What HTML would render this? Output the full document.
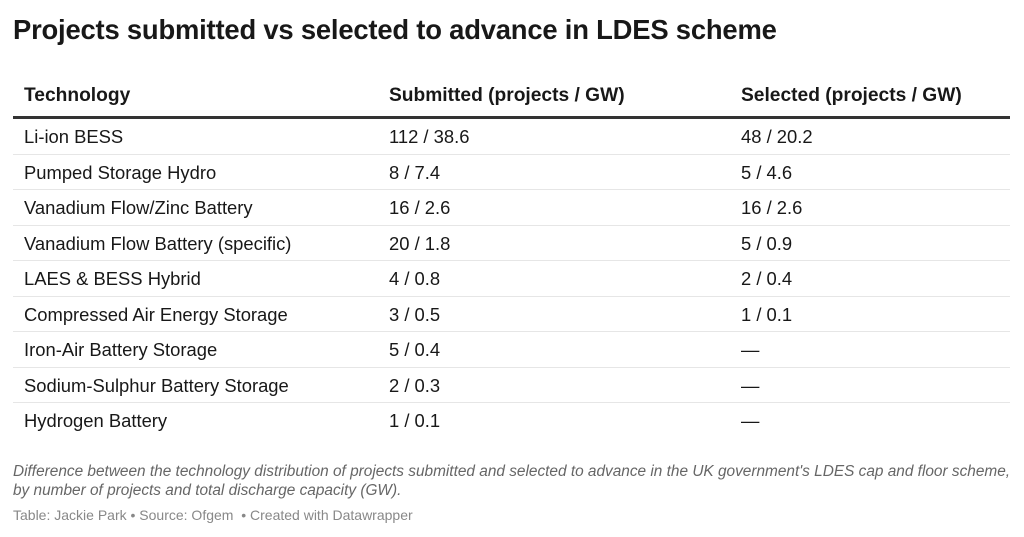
<!DOCTYPE html>
<html><head><style>
body{margin:0;width:1024px;height:537px;background:#fff;font-family:"Liberation Sans",sans-serif;color:#181818;position:relative;overflow:hidden}
.t{position:absolute;left:13px;top:14px;font-size:27.4px;font-weight:bold;letter-spacing:-0.2px}
.hd{position:absolute;top:85px;font-size:19.2px;font-weight:bold}
.line{position:absolute;left:13px;width:997px;top:116px;height:3px;background:#333}
.row{position:absolute;left:13px;width:997px;height:35.5px;border-bottom:1px solid #e6e6e6;font-size:18.4px;box-sizing:border-box}
.row span{position:absolute;top:7px}
.c1{left:11px}.c2{left:376px}.c3{left:728px}
.note{position:absolute;left:13px;font-size:15.4px;font-style:italic;color:#666}
.src{position:absolute;left:13px;top:507px;font-size:14px;color:#888}
</style></head><body>
<div class="t">Projects submitted vs selected to advance in LDES scheme</div>
<div class="hd" style="left:24px">Technology</div>
<div class="hd" style="left:389px">Submitted (projects / GW)</div>
<div class="hd" style="left:741px">Selected (projects / GW)</div>
<div class="line"></div>
<div class="row" style="top:119px"><span class="c1">Li-ion BESS</span><span class="c2">112 / 38.6</span><span class="c3">48 / 20.2</span></div>
<div class="row" style="top:154.5px"><span class="c1">Pumped Storage Hydro</span><span class="c2">8 / 7.4</span><span class="c3">5 / 4.6</span></div>
<div class="row" style="top:190px"><span class="c1">Vanadium Flow/Zinc Battery</span><span class="c2">16 / 2.6</span><span class="c3">16 / 2.6</span></div>
<div class="row" style="top:225.5px"><span class="c1">Vanadium Flow Battery (specific)</span><span class="c2">20 / 1.8</span><span class="c3">5 / 0.9</span></div>
<div class="row" style="top:261px"><span class="c1">LAES &amp; BESS Hybrid</span><span class="c2">4 / 0.8</span><span class="c3">2 / 0.4</span></div>
<div class="row" style="top:296.5px"><span class="c1">Compressed Air Energy Storage</span><span class="c2">3 / 0.5</span><span class="c3">1 / 0.1</span></div>
<div class="row" style="top:332px"><span class="c1">Iron-Air Battery Storage</span><span class="c2">5 / 0.4</span><span class="c3">—</span></div>
<div class="row" style="top:367.5px"><span class="c1">Sodium-Sulphur Battery Storage</span><span class="c2">2 / 0.3</span><span class="c3">—</span></div>
<div class="row" style="top:403px;border-bottom:none"><span class="c1">Hydrogen Battery</span><span class="c2">1 / 0.1</span><span class="c3">—</span></div>
<div class="note" style="top:463px">Difference between the technology distribution of projects submitted and selected to advance in the UK government's LDES cap and floor scheme,</div>
<div class="note" style="top:482px">by number of projects and total discharge capacity (GW).</div>
<div class="src">Table: Jackie Park • Source: Ofgem &nbsp;• Created with Datawrapper</div>
</body></html>
